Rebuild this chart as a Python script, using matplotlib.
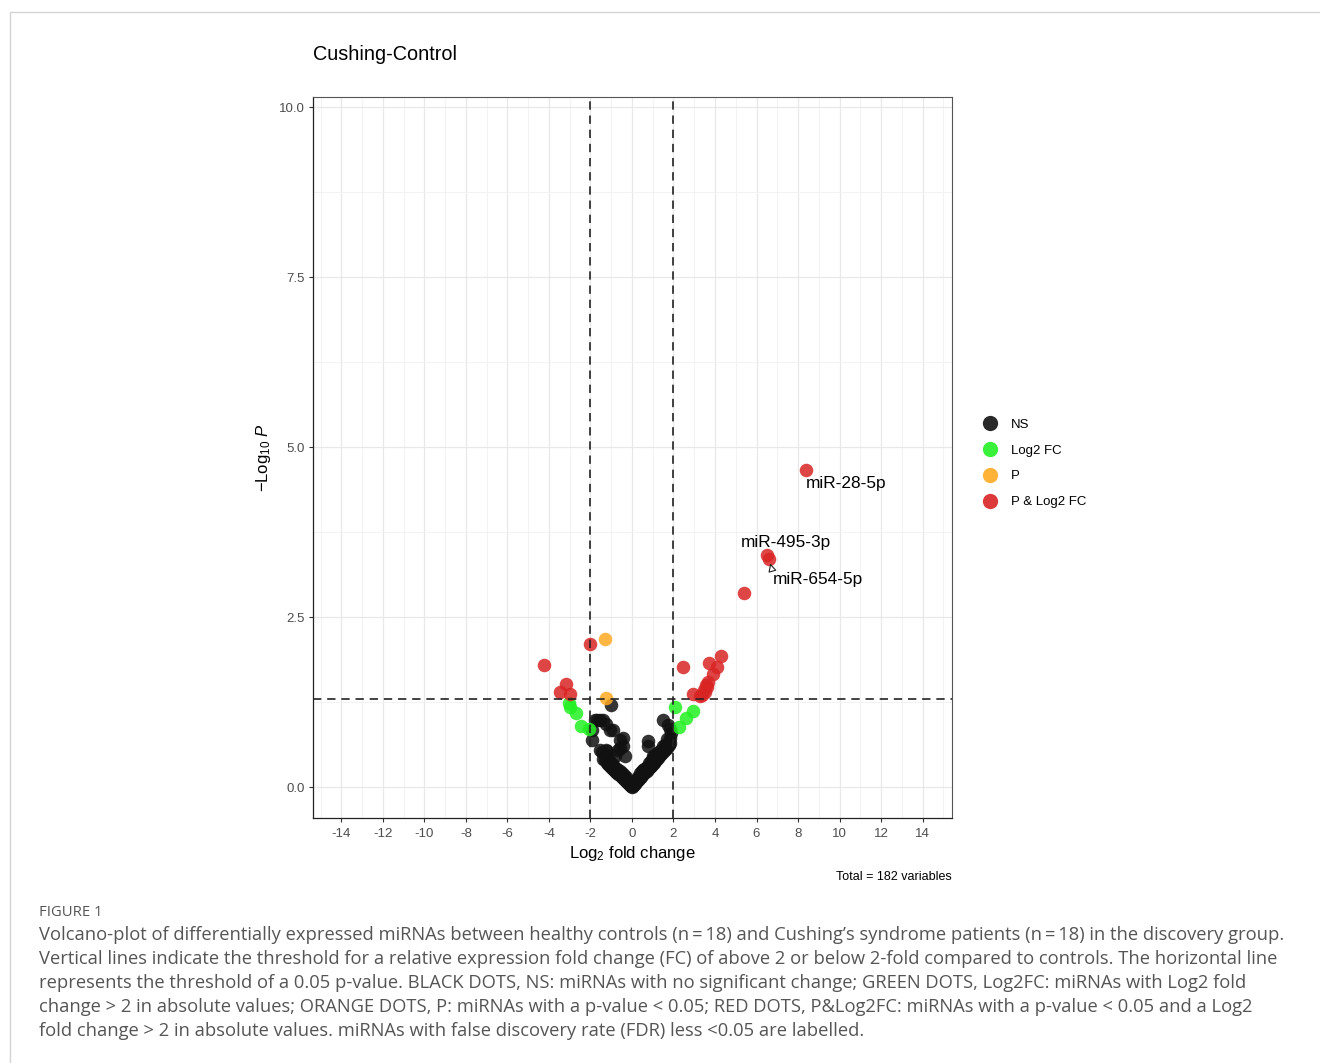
import matplotlib
matplotlib.use("Agg")
import matplotlib.pyplot as plt
from matplotlib.lines import Line2D
from matplotlib.patches import Rectangle

plt.rcParams['font.family'] = ['Liberation Sans', 'DejaVu Sans']
plt.rcParams['mathtext.fontset'] = 'custom'
plt.rcParams['mathtext.rm'] = 'Liberation Sans'
plt.rcParams['mathtext.it'] = 'Liberation Sans:italic'

# ---------------- data ----------------
ns_x = [-0.05, -0.10, -0.15, -0.20, -0.25, -0.30, -0.35, -0.40, -0.45, -0.50, -0.55, -0.60,
        -0.65, -0.70, -0.75, -0.80, -0.85, -0.90, -0.95, -1.00, -1.05, -1.10, -1.15, -1.20,
        -1.30, -1.38, -0.30, -0.50, -0.70, -0.90, -1.10, -0.60, -0.40, -1.20, -1.25, -1.54,
        -1.45, -1.94, -1.70, -1.54, -1.25, -0.93, -1.01, -0.42, -0.45, -0.65, -0.80, -1.78,
        -1.94, -1.22, -0.58, -0.34, -0.58, -1.06, -1.38, -0.20, -0.85, -1.00,
        0.05, 0.10, 0.15, 0.20, 0.25, 0.30, 0.35, 0.40, 0.45, 0.50, 0.55, 0.60, 0.65, 0.70,
        0.75, 0.80, 0.85, 0.90, 0.95, 1.00, 1.05, 1.10, 1.15, 1.20, 1.25, 1.30, 1.35, 1.40,
        1.50, 1.60, 1.70, 1.80, 1.85, 0.30, 0.50, 0.70, 0.90, 1.10, 1.30, 0.40, 0.60, 0.80,
        1.00, 1.20, 1.50, 1.70, 1.90, 1.83, 0.79, 0.75, 1.51, 1.75, 1.85, 0.25, 0.15, 0.00,
        0.02, -0.02, 1.40, 1.60, 1.00, 0.55, 1.15]
ns_y = [0.02, 0.03, 0.05, 0.06, 0.08, 0.09, 0.10, 0.12, 0.13, 0.15, 0.16, 0.18,
        0.19, 0.21, 0.22, 0.24, 0.25, 0.27, 0.28, 0.30, 0.31, 0.33, 0.34, 0.36,
        0.39, 0.41, 0.14, 0.20, 0.26, 0.33, 0.40, 0.24, 0.17, 0.45, 0.55, 0.54,
        0.52, 0.69, 0.98, 0.99, 0.93, 0.84, 1.21, 0.72, 0.60, 0.55, 0.45, 0.99,
        0.84, 0.53, 0.69, 0.45, 0.57, 0.84, 0.99, 0.09, 0.30, 0.36,
        0.02, 0.04, 0.05, 0.07, 0.09, 0.10, 0.12, 0.14, 0.15, 0.17, 0.19, 0.21, 0.22, 0.24,
        0.26, 0.28, 0.29, 0.31, 0.33, 0.35, 0.36, 0.38, 0.40, 0.42, 0.43, 0.45, 0.47, 0.49,
        0.52, 0.55, 0.58, 0.62, 0.64, 0.15, 0.23, 0.30, 0.38, 0.45, 0.52, 0.20, 0.27, 0.35,
        0.42, 0.49, 0.60, 0.70, 0.79, 0.72, 0.67, 0.60, 0.98, 0.91, 0.85, 0.12, 0.09, 0.00,
        0.05, 0.04, 0.55, 0.62, 0.46, 0.25, 0.48]

fc_x = [-3.02, -2.99, -2.71, -2.47, -2.06, 2.07, 2.28, 2.59, 2.92]
fc_y = [1.23, 1.17, 1.09, 0.90, 0.86, 1.17, 0.88, 1.01, 1.12]

p_x = [-1.30, -1.25]
p_y = [2.18, 1.31]

both_x = [-4.24, -2.02, -3.20, -3.47, -2.99, 2.47, 4.29, 3.73, 4.11, 3.89, 3.68, 3.60,
          3.52, 2.95, 3.36, 3.28, 3.45, 3.55, 5.40, 6.49, 6.62, 8.39]
both_y = [1.80, 2.11, 1.51, 1.40, 1.37, 1.77, 1.93, 1.83, 1.77, 1.66, 1.55, 1.47,
          1.40, 1.37, 1.35, 1.34, 1.42, 1.50, 2.86, 3.42, 3.36, 4.66]

labels = ['miR-28-5p', 'miR-495-3p', 'miR-654-5p']
label_x = [8.39, 6.49, 6.62]
label_y = [4.66, 3.42, 3.36]

x_ticks = list(range(-14, 15, 2))
y_ticks = [0.0, 2.5, 5.0, 7.5, 10.0]
fc_cut = 2
p_cut = 1.30103

legend_labels = ['NS', 'Log2 FC', 'P', 'P & Log2 FC']
colors = ['#111111', '#22F022', '#FFAA22', '#D92424']

# ---------------- figure ----------------
W, H = 1320, 1063
fig = plt.figure(figsize=(W / 100, H / 100), dpi=100)

# outer frame
fig.patches.append(Rectangle((10 / W, -0.1), 1.2, (1 - 12 / H) + 0.1, transform=fig.transFigure,
                             fill=False, edgecolor='#D4D4D4', linewidth=1.0))

ax = fig.add_axes([313 / W, 1 - 818 / H, (952 - 313) / W, (818 - 97) / H])
ax.set_xlim(-15.37, 15.42)
ax.set_ylim(-0.456, 10.15)

ax.set_xticks(x_ticks)
ax.set_xticklabels([str(t) for t in x_ticks])
ax.set_yticks(y_ticks)
ax.set_yticklabels(['%.1f' % t for t in y_ticks])
ax.set_xticks(list(range(-15, 16, 1)), minor=True)
ax.set_yticks([1.25, 3.75, 6.25, 8.75], minor=True)
ax.grid(which='major', color='#E8E8E8', linewidth=0.9)
ax.grid(which='minor', color='#F2F2F2', linewidth=0.7)
ax.set_axisbelow(True)
ax.tick_params(which='minor', length=0)
ax.tick_params(which='major', length=3, width=0.8, color='#333333',
               labelsize=9.5, labelcolor='#4D4D4D', pad=3)
ax.tick_params(axis='x', which='major', pad=4.5)
for s in ['top', 'right']:
    ax.spines[s].set_color('#555555')
    ax.spines[s].set_linewidth(0.8)
for s in ['left', 'bottom']:
    ax.spines[s].set_color('#222222')
    ax.spines[s].set_linewidth(0.9)

ms = 95
ax.scatter(ns_x, ns_y, s=ms, c=colors[0], alpha=0.85, linewidths=0, zorder=3)
ax.scatter(fc_x, fc_y, s=ms, c=colors[1], alpha=0.85, linewidths=0, zorder=3)
ax.scatter(p_x, p_y, s=ms, c=colors[2], alpha=0.85, linewidths=0, zorder=3)
ax.scatter(both_x, both_y, s=ms, c=colors[3], alpha=0.85, linewidths=0, zorder=3)

ax.axvline(-fc_cut, color='#222222', linestyle=(0, (5, 3.5)), linewidth=1.2, zorder=4)
ax.axvline(fc_cut, color='#222222', linestyle=(0, (5, 3.5)), linewidth=1.2, zorder=4)
ax.axhline(p_cut, color='#222222', linestyle=(0, (5, 3.5)), linewidth=1.2, zorder=4)

# labels
ax.text(label_x[0], label_y[0] - 0.19, labels[0], fontsize=12.4, ha='left', va='center', zorder=5)
ax.text(label_x[1] - 1.24, label_y[1] + 0.17, labels[1], fontsize=12.4, ha='left', va='center', zorder=5)
ax.annotate(labels[2], xy=(label_x[2] + 0.04, label_y[2] - 0.07),
            xytext=(label_x[2] + 0.18, label_y[2] - 0.31), fontsize=12.4, ha='left', va='center',
            zorder=5,
            arrowprops=dict(arrowstyle='-|>,head_length=0.4,head_width=0.2', color='#222222',
                            lw=0.8, shrinkA=0, shrinkB=0, relpos=(0.0, 0.9), fc='white'))

ax.set_xlabel(r'$\mathrm{Log}_{2}$ fold change', fontsize=12, labelpad=2.5)
ax.set_ylabel(r'$-\mathrm{Log}_{10}\ \mathit{P}$', fontsize=12, labelpad=4)

fig.text(313 / W, 1 - 54 / H, 'Cushing-Control', fontsize=14.3, ha='left', va='center')
fig.text(952 / W, 1 - 877 / H, 'Total = 182 variables', fontsize=9, ha='right', va='center')

# legend
handles = [Line2D([], [], marker='o', linestyle='', markersize=11, markerfacecolor=c,
                  markeredgewidth=0, alpha=0.9) for c in colors]
fig.legend(handles, legend_labels, loc='upper left', bbox_to_anchor=(975 / W, 1 - 412 / H),
           frameon=False, fontsize=9.5, labelspacing=1.03, handletextpad=1.0, handlelength=1.2,
           borderpad=0)

# caption
cap_font = ['Open Sans', 'DejaVu Sans']
fig.text(39 / W, 1 - 912 / H, 'FIGURE 1', fontsize=10.7, ha='left', va='center',
         color='#555555', family=cap_font)
cap_lines = [
    "Volcano-plot of differentially expressed miRNAs between healthy controls (n\u2009=\u200918) and Cushing\u2019s syndrome patients (n\u2009=\u200918) in the discovery group.",
    "Vertical lines indicate the threshold for a relative expression fold change (FC) of above 2 or below 2-fold compared to controls. The horizontal line",
    "represents the threshold of a 0.05 p-value. BLACK DOTS, NS: miRNAs with no significant change; GREEN DOTS, Log2FC: miRNAs with Log2 fold",
    "change > 2 in absolute values; ORANGE DOTS, P: miRNAs with a p-value < 0.05; RED DOTS, P&Log2FC: miRNAs with a p-value < 0.05 and a Log2",
    "fold change > 2 in absolute values. miRNAs with false discovery rate (FDR) less <0.05 are labelled.",
]
for i, line in enumerate(cap_lines):
    fig.text(39 / W, 1 - (935 + 24 * i) / H, line, fontsize=13.25, ha='left', va='center',
             color='#555555', family=cap_font)

fig.savefig('out.png', dpi=100)
